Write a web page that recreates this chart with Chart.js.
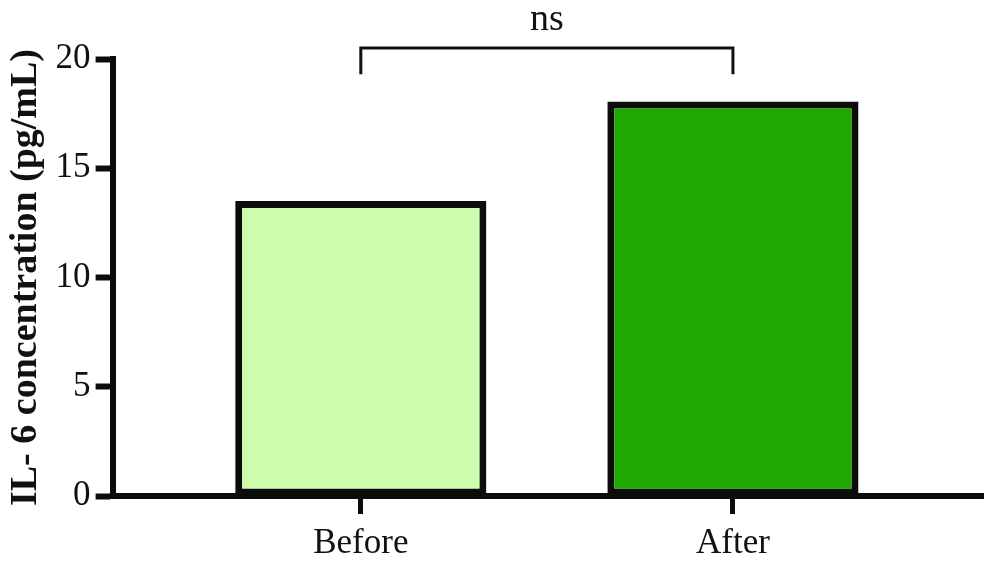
<!DOCTYPE html>
<html>
<head>
<meta charset="utf-8">
<script src="https://cdn.jsdelivr.net/npm/chart.js@4.4.1/dist/chart.umd.min.js"></script>
<style>
  html, body { margin: 0; padding: 0; background: #fff; }
  #wrap { width: 1000px; height: 575px; position: relative; }
</style>
</head>
<body>
<div id="wrap"><canvas id="c" width="1000" height="575"></canvas></div>
<script>
const categories = ['Before', 'After'];
const values = [13.5, 18.05];
const yTicks = [0, 5, 10, 15, 20];
const barColors = ['#ccfcac', '#1ea800'];
const yTitle = 'IL- 6 concentration (pg/mL)';
// significance bracket: from category 0 to 1, top at y=20.5, legs down to 19.3
const bracketCats = [0, 1];
const bracketY = [20.5, 19.3];
const bracketLabel = 'ns';

const serif = '"Liberation Serif", "DejaVu Serif", serif';

const bracketPlugin = {
  id: 'bracket',
  afterDraw(chart) {
    const { ctx, scales: { x, y } } = chart;
    const x0 = x.getPixelForValue(bracketCats[0]);
    const x1 = x.getPixelForValue(bracketCats[1]);
    const yTop = y.getPixelForValue(bracketY[0]);
    const yLeg = y.getPixelForValue(bracketY[1]);
    ctx.save();
    ctx.strokeStyle = '#111';
    ctx.lineWidth = 3;
    ctx.lineCap = 'butt';
    ctx.beginPath();
    ctx.moveTo(x0, yLeg);
    ctx.lineTo(x0, yTop);
    ctx.lineTo(x1, yTop);
    ctx.lineTo(x1, yLeg);
    ctx.stroke();
    ctx.fillStyle = '#111';
    ctx.font = '38px ' + serif;
    ctx.textAlign = 'center';
    ctx.textBaseline = 'alphabetic';
    ctx.fillText(bracketLabel, (x0 + x1) / 2, yTop - 18);
    ctx.restore();
  }
};

new Chart(document.getElementById('c'), {
  type: 'bar',
  data: {
    datasets: [{
      data: values.map((v, i) => ({ x: i, y: v })),
      backgroundColor: barColors,
      borderColor: '#0a0d0a',
      borderWidth: 7,
      borderSkipped: false,
      barPercentage: 0.675,
      categoryPercentage: 1.0
    }]
  },
  options: {
    responsive: false,
    animation: false,
    devicePixelRatio: 1,
    layout: { padding: { top: 59, right: 17, bottom: 1, left: 3 } },
    plugins: { legend: { display: false }, tooltip: { enabled: false } },
    scales: {
      x: {
        type: 'linear',
        offset: false,
        min: -0.667,
        max: 1.672,
        afterBuildTicks(scale) { scale.ticks = categories.map((_, i) => ({ value: i })); },
        ticks: {
          callback: (v) => categories[v],
          color: '#111',
          font: { family: serif, size: 35 },
          padding: 9,
          maxRotation: 0,
          autoSkip: false
        },
        grid: { offset: false, drawOnChartArea: false, drawTicks: true, tickLength: 18, tickWidth: 5, tickColor: '#0a0d0a' },
        border: { display: true, width: 6, color: '#0a0d0a' }
      },
      y: {
        min: 0,
        max: 20,
        afterBuildTicks(scale) { scale.ticks = yTicks.map(v => ({ value: v })); },
        ticks: {
          color: '#111',
          font: { family: serif, size: 35 },
          padding: 5
        },
        grid: { drawOnChartArea: false, drawTicks: true, tickLength: 17, tickWidth: 6, tickColor: '#0a0d0a' },
        border: { display: true, width: 6, color: '#0a0d0a' },
        title: {
          display: true,
          text: yTitle,
          color: '#111',
          font: { family: serif, size: 38, weight: 'bold' },
          padding: { top: 0, bottom: 2 }
        }
      }
    }
  },
  plugins: [bracketPlugin]
});
</script>
</body>
</html>
